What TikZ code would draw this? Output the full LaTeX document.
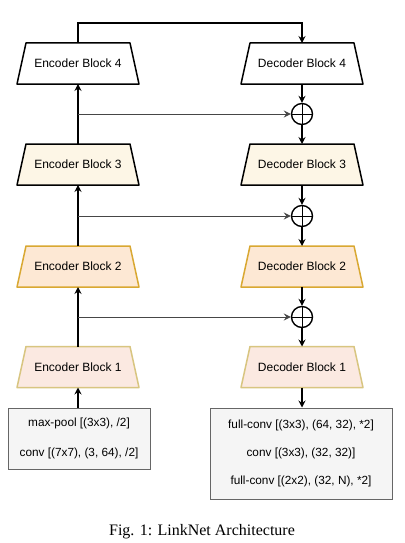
\documentclass[tikz,border=0pt]{standalone}
\usepackage{fontspec}
\setmainfont{Liberation Sans}
\newfontfamily\capfont{Liberation Serif}
\usetikzlibrary{arrows.meta}
\definecolor{creamfill}{RGB}{253,246,230}
\definecolor{orfill}{RGB}{253,232,212}
\definecolor{ordraw}{RGB}{217,168,50}
\definecolor{pkfill}{RGB}{251,233,225}
\definecolor{pkdraw}{RGB}{216,197,128}
\definecolor{boxfill}{RGB}{245,245,245}
\definecolor{boxdraw}{RGB}{102,102,102}
\definecolor{skipc}{RGB}{70,70,70}
\tikzset{
  blk/.style 2 args={rectangle, minimum width=124pt, minimum height=43pt, inner sep=0pt, outer sep=0pt,
    font=\fontsize{12}{14}\selectfont,
    path picture={\draw[draw=#1, fill=#2, line width=1.5pt, line join=round]
      ([xshift=10pt,yshift=-1pt]path picture bounding box.north west) --
      ([xshift=-10pt,yshift=-1pt]path picture bounding box.north east) --
      ([xshift=-1pt,yshift=1pt]path picture bounding box.south east) --
      ([xshift=1pt,yshift=1pt]path picture bounding box.south west) -- cycle;}},
  sumnode/.style={circle, draw=black, line width=1.4pt, minimum size=21pt, inner sep=0pt,
    path picture={\draw[line width=1pt] (path picture bounding box.north) -- (path picture bounding box.south)
      (path picture bounding box.west) -- (path picture bounding box.east);}},
  opbox/.style={draw=boxdraw, fill=boxfill, line width=1pt, align=center, inner sep=0pt},
  arr/.style={line width=1.1pt, -{Stealth[length=7pt,width=7pt,inset=2.5pt]}},
  skiparr/.style={arr, draw=skipc, line width=1pt},
}
\begin{document}
\begin{tikzpicture}[x=1pt,y=-1pt]
\useasboundingbox[fill=white] (0,0) rectangle (404,543);
% encoder
\node[blk={black}{white}] (e4) at (78,63.5) {Encoder Block 4};
\node[blk={black}{creamfill}] (e3) at (78,164.5) {Encoder Block 3};
\node[blk={ordraw}{orfill}] (e2) at (78,266.5) {Encoder Block 2};
\node[blk={pkdraw}{pkfill}] (e1) at (78,367) {Encoder Block 1};
% decoder
\node[blk={black}{white}] (d4) at (302,63.5) {Decoder Block 4};
\node[blk={black}{creamfill}] (d3) at (302,164.5) {Decoder Block 3};
\node[blk={ordraw}{orfill}] (d2) at (302,266.5) {Decoder Block 2};
\node[blk={pkdraw}{pkfill}] (d1) at (302,367) {Decoder Block 1};
% sums
\node[sumnode] (c4) at (302,114) {};
\node[sumnode] (c3) at (302,216) {};
\node[sumnode] (c2) at (302,317) {};
% op boxes
\node[opbox, minimum width=142pt, minimum height=61pt,
  font=\fontsize{11.8}{30}\selectfont] (eb) at (79,438.5)
  {max-pool [(3x3), /2]\\conv [(7x7), (3, 64), /2]};
\node[opbox, minimum width=182pt, minimum height=91pt,
  font=\fontsize{11.8}{28}\selectfont] (db) at (301,453.5)
  {full-conv [(3x3), (64, 32), *2]\\conv [(3x3), (32, 32)]\\full-conv [(2x2), (32, N), *2]};
% caption
\node[font=\capfont\fontsize{16}{19}\selectfont] (cap) at (202,532) {Fig. 1: LinkNet Architecture};
% encoder path
\draw[arr] (eb.north) -- (e1.north |- eb.north) -- ([yshift=1pt]e1.south);
\draw[arr] ([yshift=-1pt]e1.north) -- ([yshift=1pt]e2.south);
\draw[arr] ([yshift=-1pt]e2.north) -- ([yshift=1pt]e3.south);
\draw[arr] ([yshift=-1pt]e3.north) -- ([yshift=1pt]e4.south);
\coordinate (top) at (78,23);
\draw[arr] ([yshift=-1pt]e4.north) -- (top) -| ([yshift=-1pt]d4.north);
% skips
\draw[skiparr] (e3.north |- c4) -- (c4.west);
\draw[skiparr] (e2.north |- c3) -- (c3.west);
\draw[skiparr] (e1.north |- c2) -- (c2.west);
% decoder path
\draw[arr] ([yshift=1pt]d4.south) -- (c4.north);
\draw[arr] (c4.south) -- ([yshift=-1pt]d3.north);
\draw[arr] ([yshift=1pt]d3.south) -- (c3.north);
\draw[arr] (c3.south) -- ([yshift=-1pt]d2.north);
\draw[arr] ([yshift=1pt]d2.south) -- (c2.north);
\draw[arr] (c2.south) -- ([yshift=-1pt]d1.north);
\draw[arr] ([yshift=1pt]d1.south) -- (d1.south |- db.north);
\end{tikzpicture}
\end{document}
